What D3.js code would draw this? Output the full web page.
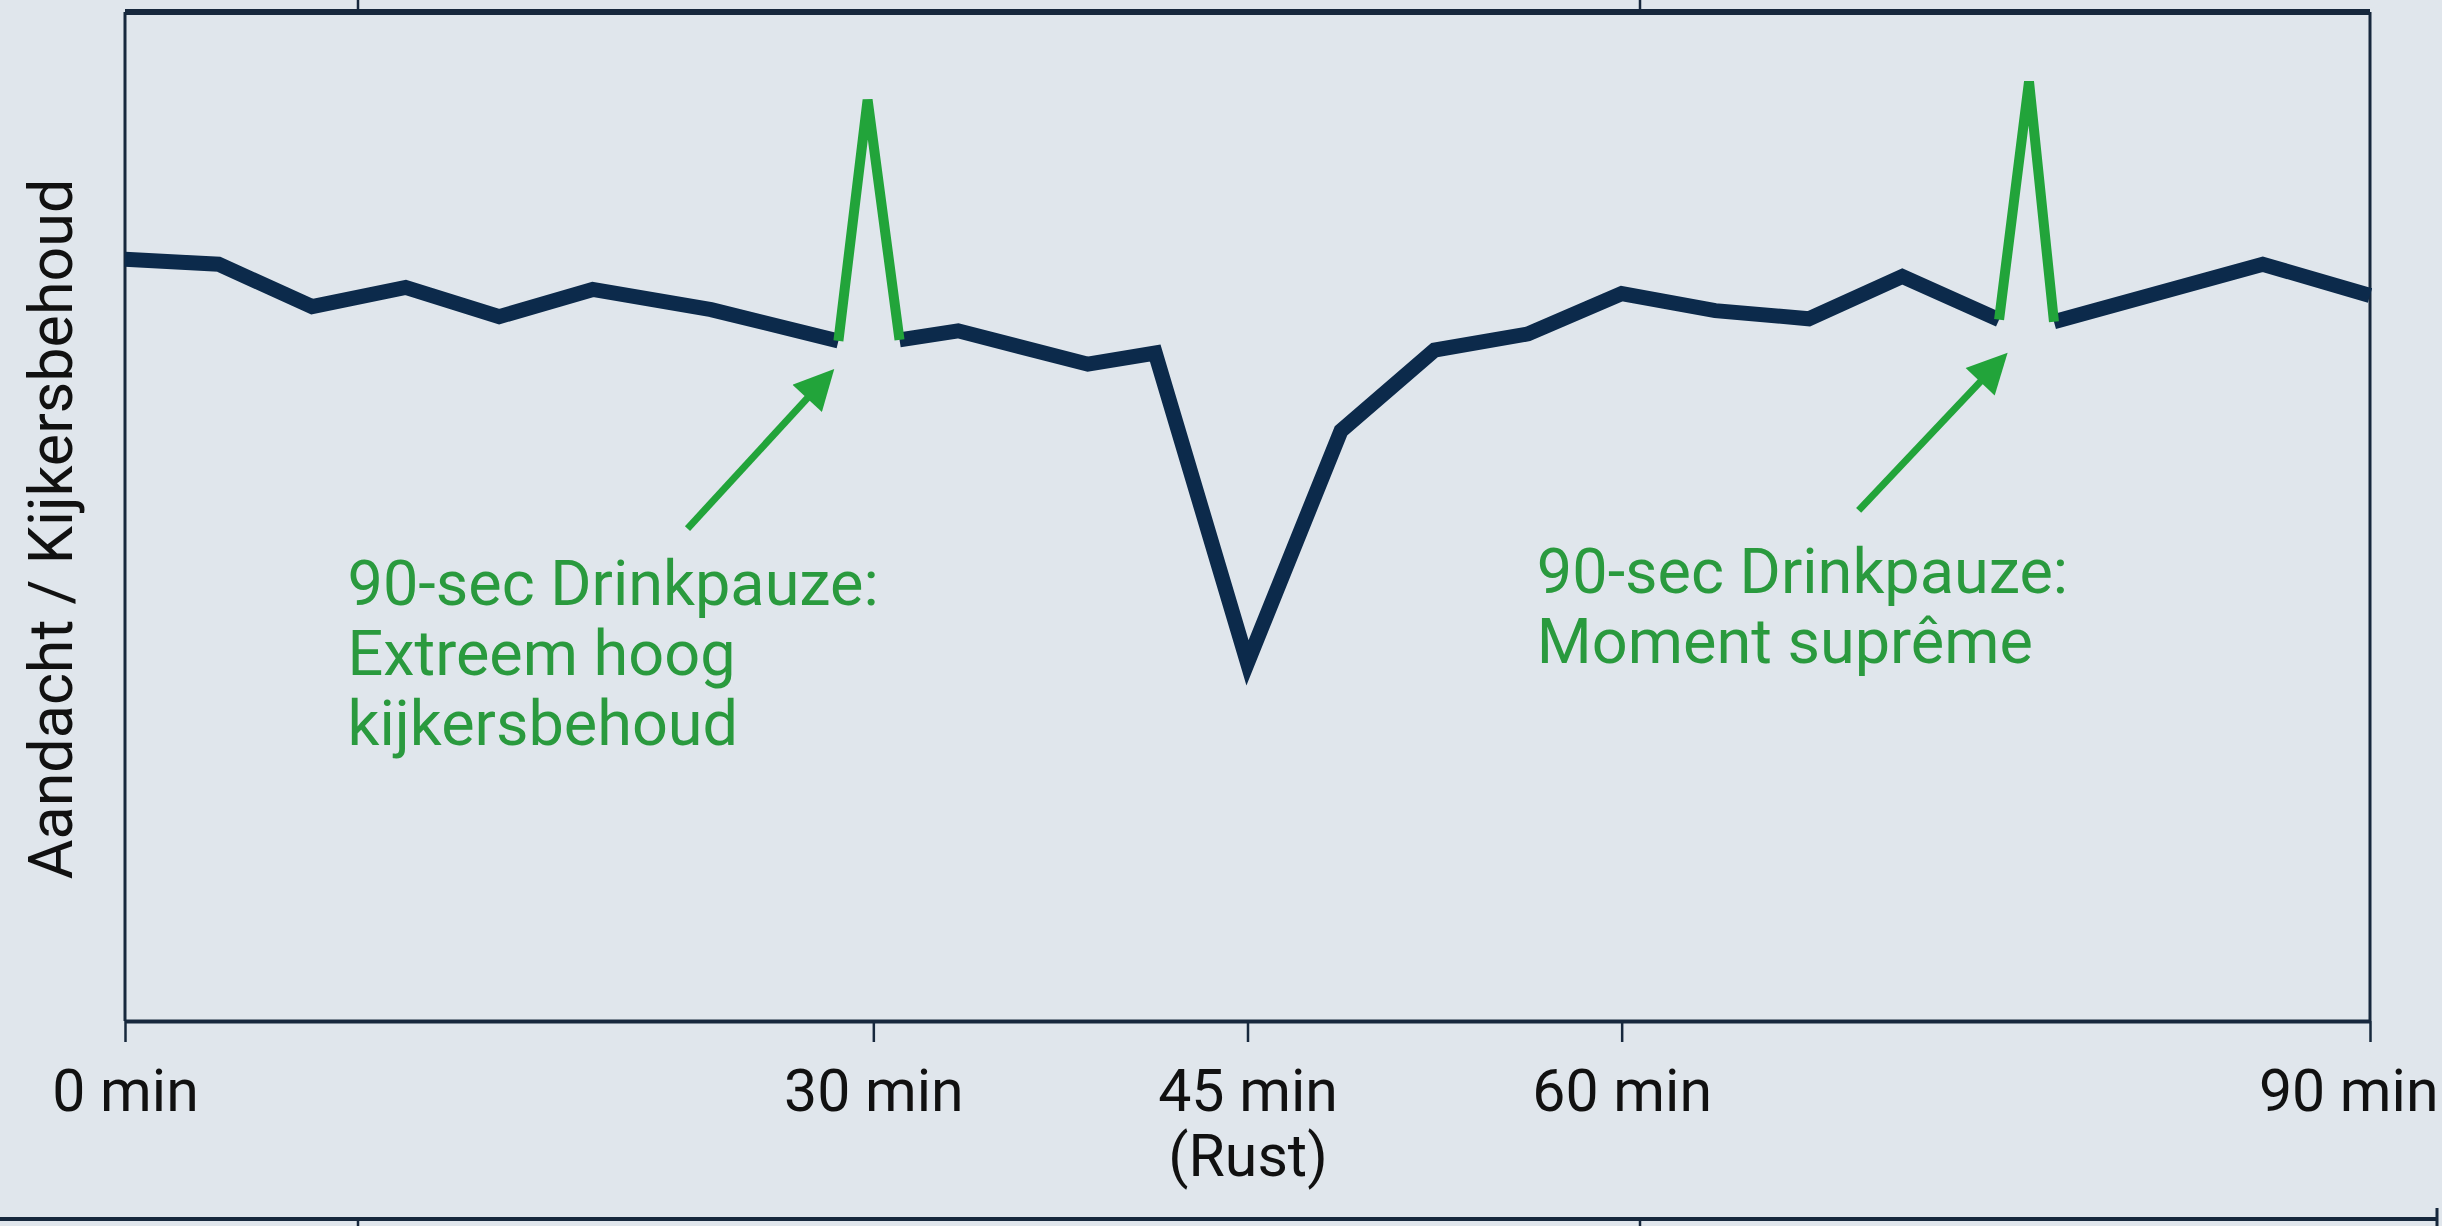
<!DOCTYPE html>
<html>
<head>
<meta charset="utf-8">
<script src="https://cdn.jsdelivr.net/npm/d3@7"></script>
<style>
  html, body { margin: 0; padding: 0; background: #e0e6ec; }
  svg { display: block; font-family: Roboto, "Liberation Sans", Arial, sans-serif; }
</style>
</head>
<body>
<script>
const WIDTH = 2442;
const HEIGHT = 1226;
const LEFT = 125;
const RIGHT = 2370;
const TOP = 12;
const BOTTOM = 1021;

const NAVY = '#0c2a4b';
const AXIS = '#17283d';
const GREEN = '#22a43a';
const GREEN_TEXT = '#2a9a3e';

// attention curve, minutes vs. estimated retention (0-100)
var minutes =   [0, 3.75, 7.5, 11.25, 15, 18.75, 23.5, 28.6, 31.05, 33.4, 38.6, 41.3, 45, 48.75, 52.5, 56.25, 60, 63.75, 67.5, 71.25, 75.13, 77.33, 85.7, 90];
var retention = [75.5, 75.0, 70.8, 72.7, 69.8, 72.5, 70.5, 67.4, 67.5, 68.4, 65.1, 66.2, 35.5, 58.5, 66.5, 68.1, 72.1, 70.4, 69.6, 73.8, 69.5, 69.3, 75.0, 71.9];

// drink break spikes
var spikeMinutes = [[28.6, 29.77, 31.05], [75.13, 76.33, 77.33]];
var spikeValues =  [[67.4, 91.3, 67.5], [69.5, 93.1, 69.3]];

var tickMinutes = [0, 30, 45, 60, 90];
var tickLabels = ['0 min', '30 min', '45 min', '60 min', '90 min'];
var tickSubLabels = ['', '', '(Rust)', '', ''];

// annotations: text anchor and arrow tail/tip in data units
var noteLines = [
    ['90-sec Drinkpauze:', 'Extreem hoog', 'kijkersbehoud'],
    ['90-sec Drinkpauze:', 'Moment suprême']
];
var noteAt = [[8.92, 41.2], [56.6, 42.4]];
var arrowFrom = [[22.55, 48.8], [69.5, 50.6]];
var arrowTo = [[28.46, 64.7], [75.5, 66.3]];

var yTitle = 'Aandacht / Kijkersbehoud';

var svg = d3.select('body').append('svg')
    .attr('width', WIDTH)
    .attr('height', HEIGHT);

svg.append('rect')
    .attr('width', WIDTH)
    .attr('height', HEIGHT)
    .attr('fill', '#e0e6ec');

var xScale = d3.scaleLinear().domain([0, 90]).range([LEFT, RIGHT]);
var yScale = d3.scaleLinear().domain([0, 100]).range([BOTTOM, TOP]);

// pieces of neighbouring panels at the top and bottom edge
var edge = svg.append('g').attr('stroke', AXIS).attr('fill', 'none');
edge.append('line').attr('x1', 0).attr('x2', 2437).attr('y1', 1219).attr('y2', 1219).attr('stroke-width', 4);
[358, 1640].forEach(function (px) {
    edge.append('line').attr('x1', px).attr('x2', px).attr('y1', 0).attr('y2', TOP).attr('stroke-width', 2.5);
    edge.append('line').attr('x1', px).attr('x2', px).attr('y1', 1219).attr('y2', HEIGHT).attr('stroke-width', 2.5);
});
edge.append('line').attr('x1', 2437).attr('x2', 2437).attr('y1', 1208).attr('y2', HEIGHT).attr('stroke-width', 3);

// plot frame
var frame = svg.append('g').attr('stroke', AXIS).attr('fill', 'none');
frame.append('line').attr('x1', LEFT).attr('x2', RIGHT).attr('y1', TOP).attr('y2', TOP).attr('stroke-width', 6);
frame.append('line').attr('x1', LEFT).attr('x2', LEFT).attr('y1', TOP).attr('y2', BOTTOM).attr('stroke-width', 3);
frame.append('line').attr('x1', RIGHT).attr('x2', RIGHT).attr('y1', TOP).attr('y2', BOTTOM).attr('stroke-width', 3);

var xAxis = d3.axisBottom(xScale)
    .tickValues(tickMinutes)
    .tickSize(21)
    .tickSizeOuter(0)
    .tickPadding(27)
    .tickFormat(function (d, i) { return tickLabels[i]; });

var xg = svg.append('g')
    .attr('transform', 'translate(0,' + BOTTOM + ')')
    .call(xAxis);
xg.select('.domain').attr('stroke', AXIS).attr('stroke-width', 4);
xg.selectAll('.tick line').attr('stroke', AXIS).attr('stroke-width', 2.5);
xg.selectAll('.tick text')
    .attr('fill', '#111')
    .attr('font-size', 59)
    .attr('font-family', 'Roboto, "Liberation Sans", Arial, sans-serif')
    .each(function (d, i) {
        if (tickSubLabels[i]) {
            d3.select(this).append('tspan')
                .attr('x', 0)
                .attr('dy', 65)
                .text(tickSubLabels[i]);
        }
    });
// last label is pulled inside the picture edge
xg.selectAll('.tick text').filter(function (d) { return d === 90; })
    .attr('text-anchor', 'end')
    .attr('x', 68);

// y axis title
svg.append('text')
    .attr('transform', 'translate(72,529) rotate(-90)')
    .attr('text-anchor', 'middle')
    .attr('font-size', 61)
    .attr('fill', '#111')
    .text(yTitle);

// main curve, split where the drink breaks take over
var points = minutes.map(function (m, i) { return [m, retention[i]]; });
var segments = [[points[0]]];
for (var i = 1; i < points.length; i++) {
    var isBreak = spikeMinutes.some(function (s) { return s[0] === points[i - 1][0] && s[2] === points[i][0]; });
    if (isBreak) segments.push([]);
    segments[segments.length - 1].push(points[i]);
}

var line = d3.line()
    .x(function (d) { return xScale(d[0]); })
    .y(function (d) { return yScale(d[1]); })
    .curve(d3.curveLinear);

svg.append('g').selectAll('path.main')
    .data(segments)
    .enter()
    .append('path')
    .attr('class', 'main')
    .attr('d', line)
    .attr('fill', 'none')
    .attr('stroke', NAVY)
    .attr('stroke-width', 15)
    .attr('stroke-linejoin', 'miter');

var spikes = spikeMinutes.map(function (ms, k) {
    return ms.map(function (m, j) { return [m, spikeValues[k][j]]; });
});

svg.append('g').selectAll('path.spike')
    .data(spikes)
    .enter()
    .append('path')
    .attr('class', 'spike')
    .attr('d', line)
    .attr('fill', 'none')
    .attr('stroke', GREEN)
    .attr('stroke-width', 10)
    .attr('stroke-linejoin', 'miter');

// arrows
svg.append('defs').append('marker')
    .attr('id', 'arrowHead')
    .attr('viewBox', '0 0 10 10')
    .attr('refX', 5)
    .attr('refY', 5)
    .attr('markerWidth', 42)
    .attr('markerHeight', 40)
    .attr('markerUnits', 'userSpaceOnUse')
    .attr('orient', 'auto')
    .append('path')
    .attr('d', 'M0,0L10,5L0,10z')
    .attr('fill', GREEN);

arrowFrom.forEach(function (from, k) {
    var x1 = xScale(from[0]), y1 = yScale(from[1]);
    var x2 = xScale(arrowTo[k][0]), y2 = yScale(arrowTo[k][1]);
    var len = Math.hypot(x2 - x1, y2 - y1);
    // stop the shaft half a head short so the head tip lands on the target
    var f = (len - 21) / len;
    svg.append('line')
        .attr('x1', x1).attr('y1', y1)
        .attr('x2', x1 + (x2 - x1) * f).attr('y2', y1 + (y2 - y1) * f)
        .attr('stroke', GREEN)
        .attr('stroke-width', 7)
        .attr('marker-end', 'url(#arrowHead)');
});

// annotation texts
noteLines.forEach(function (lines, k) {
    var t = svg.append('text')
        .attr('x', xScale(noteAt[k][0]))
        .attr('y', yScale(noteAt[k][1]))
        .attr('font-size', 63)
        .attr('fill', GREEN_TEXT);
    lines.forEach(function (s, j) {
        t.append('tspan')
            .attr('x', xScale(noteAt[k][0]))
            .attr('dy', j === 0 ? 0 : 70)
            .text(s);
    });
});
</script>
</body>
</html>
